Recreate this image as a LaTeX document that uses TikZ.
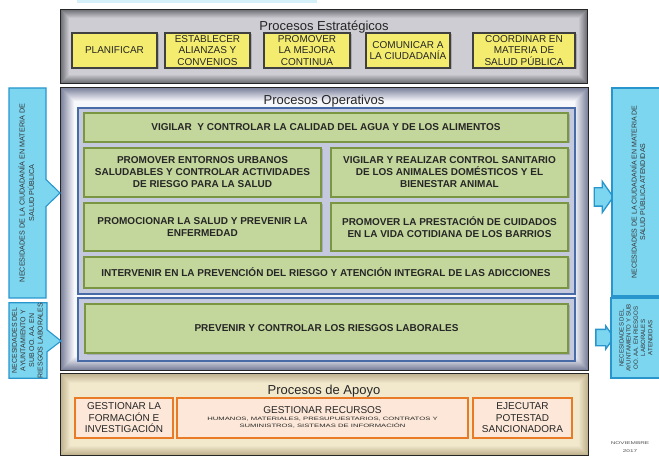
\documentclass[tikz,border=0pt]{standalone}
\usepackage{fontspec}
\setmainfont{Liberation Sans}
\newfontfamily\widesans{Liberation Sans}[FakeStretch=1.6]
\usepackage{graphicx}
\usepackage{tikz}
\usetikzlibrary{shapes.arrows,shapes.callouts,shadows}

\definecolor{amarillo}{RGB}{243,236,110}
\definecolor{verdefondo}{RGB}{195,214,155}
\definecolor{verdeborde}{RGB}{122,150,66}
\definecolor{azulfondo}{RGB}{196,201,222}
\definecolor{azulborde}{RGB}{72,106,166}
\definecolor{naranjafondo}{RGB}{252,231,216}
\definecolor{naranjaborde}{RGB}{233,122,38}
\definecolor{celestefondo}{RGB}{125,214,240}
\definecolor{celesteborde}{RGB}{40,150,205}
\definecolor{grisin}{RGB}{206,206,212}
\definecolor{grisedge}{RGB}{105,105,112}
\definecolor{opsin}{RGB}{250,250,253}
\definecolor{opsedge}{RGB}{118,124,152}
\definecolor{apoyoin}{RGB}{242,233,205}
\definecolor{apoyoedge}{RGB}{188,174,138}
\definecolor{franja}{RGB}{214,240,249}

\newcommand{\vlines}[1]{\rotatebox{90}{\begin{tabular}{@{}c@{}}#1\end{tabular}}}

\begin{document}
\begin{tikzpicture}[x=1pt,y=-1pt,
  marco/.style={draw=black!85,line width=1.2pt,inner sep=0pt},
  titulo/.style={font=\fontsize{13}{15}\selectfont,text=black!85},
  amar/.style={draw=black!75,line width=1.6pt,fill=amarillo,align=center,inner sep=1pt,minimum height=35pt,
    font=\fontsize{10}{11.5}\selectfont,text=black!85,drop shadow={shadow xshift=1.5pt,shadow yshift=-1.5pt,opacity=.45}},
  verde/.style={draw=verdeborde,line width=1.6pt,fill=verdefondo,align=center,inner sep=1pt,
    font=\bfseries\fontsize{10}{12}\selectfont,text=black!85,drop shadow={shadow xshift=1.5pt,shadow yshift=-1.5pt,opacity=.4}},
  azul/.style={draw=azulborde,line width=1.3pt,fill=azulfondo,inner sep=0pt},
  naranja/.style={draw=naranjaborde,line width=1.8pt,fill=naranjafondo,align=center,inner sep=1pt,minimum height=40pt,
    font=\fontsize{10}{11.5}\selectfont,text=black!85,drop shadow={shadow xshift=1.2pt,shadow yshift=-1.2pt,opacity=.3}},
  celeste/.style={draw=celesteborde,line width=1.1pt,fill=celestefondo,inner sep=0pt,text=black!80},
  flecha/.style={single arrow,draw=celesteborde,line width=1.3pt,fill=celestefondo,inner xsep=0pt,single arrow tip angle=110}]
\useasboundingbox (0,0) rectangle (659,457);
\fill[white] (0,0) rectangle (659,457);
\fill[franja] (77,0) rectangle (317,3);

\node[marco,fill=grisedge,minimum width=526pt,minimum height=73pt] (estr) at (324,46.5) {};
\foreach \d [evaluate=\d as \p using int(100-11*\d)] in {1,...,9}
  \fill[grisedge!\p!grisin] ([shift={(\d,\d)}]estr.north west) rectangle ([shift={(-\d,-\d)}]estr.south east);
\node[titulo] (estrtit) at (324,27.5) {Procesos Estratégicos};
\node[amar,minimum width=85pt] (planif) at (114.5,50.5) {PLANIFICAR};
\node[amar,minimum width=85pt] (alianz) at (207.5,50.5) {ESTABLECER\\ALIANZAS Y\\CONVENIOS};
\node[amar,minimum width=86pt] (mejora) at (307,50.5) {PROMOVER\\LA MEJORA\\CONTINUA};
\node[amar,minimum width=84pt] (comunic) at (408,50.5) {COMUNICAR A\\LA CIUDADANÍA};
\node[amar,minimum width=102pt] (coordin) at (524,50.5) {COORDINAR EN\\MATERIA DE\\SALUD PÚBLICA};

\node[marco,fill=opsedge,minimum width=527pt,minimum height=282pt] (oper) at (324.5,229) {};
\foreach \d [evaluate=\d as \p using int(100-7*\d)] in {1,...,14}
  \fill[opsedge!\p!opsin] ([shift={(\d,\d)}]oper.north west) rectangle ([shift={(-\d,-\d)}]oper.south east);
\node[titulo] (opertit) at (324,101) {Procesos Operativos};
\node[azul,minimum width=497pt,minimum height=186pt] (salud) at (326.5,201) {};
\node[azul,minimum width=497pt,minimum height=63pt] (labor) at (326.5,329.5) {};
\node[verde,minimum width=484pt,minimum height=29pt] (agua) at (326,127.5) {VIGILAR~ Y CONTROLAR LA CALIDAD DEL AGUA Y DE LOS ALIMENTOS};
\node[verde,minimum width=237pt,minimum height=49pt] (entorn) at (202.5,172.5) {PROMOVER ENTORNOS URBANOS\\SALUDABLES Y CONTROLAR ACTIVIDADES\\DE RIESGO PARA LA SALUD};
\node[verde,minimum width=237pt,minimum height=49pt] (animal) at (449.5,172.5) {VIGILAR Y REALIZAR CONTROL SANITARIO\\DE LOS ANIMALES DOMÉSTICOS Y EL\\BIENESTAR ANIMAL};
\node[verde,minimum width=237pt,minimum height=48pt] (enferm) at (202.5,227) {PROMOCIONAR LA SALUD Y PREVENIR LA\\ENFERMEDAD};
\node[verde,minimum width=237pt,minimum height=48pt] (barrio) at (449.5,227) {PROMOVER LA PRESTACIÓN DE CUIDADOS\\EN LA VIDA COTIDIANA DE LOS BARRIOS};
\node[verde,minimum width=484pt,minimum height=31pt] (adicc) at (326,272.5) {INTERVENIR EN LA PREVENCIÓN DEL RIESGO Y ATENCIÓN INTEGRAL DE LAS ADICCIONES};
\node[verde,minimum width=483pt,minimum height=49pt] (riesgo) at (326.5,328.5) {PREVENIR Y CONTROLAR LOS RIESGOS LABORALES};

\node[marco,fill=apoyoedge,minimum width=527pt,minimum height=81pt] (apoyo) at (324.5,414.5) {};
\foreach \d [evaluate=\d as \p using int(100-10*\d)] in {1,...,10}
  \fill[apoyoedge!\p!apoyoin] ([shift={(\d,\d)}]apoyo.north west) rectangle ([shift={(-\d,-\d)}]apoyo.south east);
\node[titulo] (apoyotit) at (324,391) {Procesos de Apoyo};
\node[naranja,minimum width=98pt] (formac) at (124,418) {GESTIONAR LA\\FORMACIÓN E\\INVESTIGACIÓN};
\node[naranja,minimum width=291pt] (recurs) at (322.5,418) {GESTIONAR RECURSOS\\[-1pt]{\widesans\fontsize{4.8}{6.7}\selectfont\begin{tabular}{@{}c@{}}HUMANOS, MATERIALES, PRESUPUESTARIOS, CONTRATOS Y\\SUMINISTROS, SISTEMAS DE INFORMACIÓN\end{tabular}}};
\node[naranja,minimum width=99pt] (sancion) at (522.5,418) {EJECUTAR\\POTESTAD\\SANCIONADORA};

\node[celeste,rectangle callout,callout absolute pointer={(60,193)},callout pointer width=27pt,
  minimum width=37pt,minimum height=210pt,font=\fontsize{7.2}{9.5}\selectfont] (necciud) at (27.5,193)
  {\vlines{NECESIDADES DE LA CIUDADANÍA EN MATERIA DE\\SALUD PÚBLICA}};
\node[celeste,rectangle callout,callout absolute pointer={(61,341)},callout pointer width=22pt,
  minimum width=38pt,minimum height=75pt,font=\fontsize{7}{8.6}\selectfont] (necayto) at (28,340.5)
  {\vlines{NECESIDADES DEL\\AYUNTAMIENTO Y\\SUB OO. AA. EN\\RIESGOS LABORALES}};

\node[flecha,minimum height=19pt,inner ysep=8.5pt,single arrow head extend=6.5pt] (salida1) at (600.5,197) {};
\node[flecha,minimum height=18pt,inner ysep=7.5pt,single arrow head extend=3.5pt] (salida2) at (602,337.5) {};
\node[celeste,minimum width=54pt,minimum height=208pt,font=\fontsize{7}{8}\selectfont] (atenciud) at (639,192)
  {\vlines{NECESIDADES DE LA CIUDADANÍA EN MATERIA DE\\SALUD PÚBLICA ATENDIDAS}};
\node[celeste,minimum width=51pt,minimum height=80pt,font=\fontsize{6.1}{7.2}\selectfont] (atenayto) at (636.5,338)
  {\vlines{NECESIDADES DEL\\AYUNTAMIENTO Y SUB\\OO. AA. EN RIESGOS\\LABORALES\\ATENDIDAS}};

\node[font=\widesans\fontsize{4}{8}\selectfont,align=center,text=black!70] (fecha) at (630,447) {NOVIEMBRE\\2017};
\end{tikzpicture}
\end{document}
